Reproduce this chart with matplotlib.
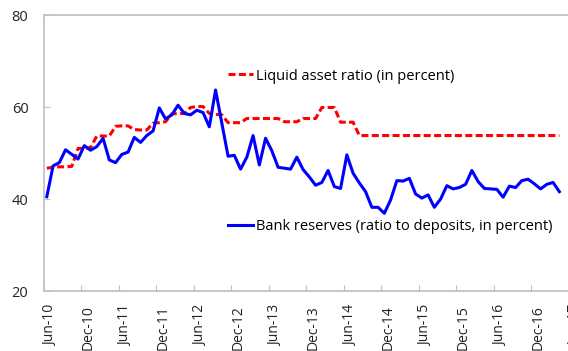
import numpy as np
import matplotlib
matplotlib.use('Agg')
import matplotlib.pyplot as plt
from matplotlib.ticker import FixedLocator, FixedFormatter
from matplotlib.transforms import ScaledTranslation

plt.rcParams['font.family'] = ['Open Sans', 'DejaVu Sans']

# monthly observations, Jun-10 .. Apr-17
start_year, start_month = 2010, 6

bank_reserves = [
    40.5, 47.2, 47.9, 50.7, 49.7, 48.7, 51.6, 50.6, 51.4, 53.2,
    48.5, 47.9, 49.7, 50.2, 53.4, 52.3, 53.8, 54.8, 59.8, 57.4,
    58.3, 60.4, 58.6, 58.3, 59.3, 58.8, 55.7, 63.7, 56.5, 49.3,
    49.5, 46.5, 49.1, 53.8, 47.4, 53.2, 50.5, 46.9, 46.7, 46.5,
    49.1, 46.4, 44.8, 43.0, 43.6, 46.2, 42.7, 42.3, 49.6, 45.6,
    43.5, 41.6, 38.2, 38.2, 36.9, 39.8, 44.0, 43.9, 44.5, 41.1,
    40.2, 40.9, 38.2, 40.0, 42.9, 42.2, 42.5, 43.2, 46.2, 43.8,
    42.3, 42.2, 42.1, 40.4, 42.8, 42.5, 44.0, 44.3, 43.3, 42.2,
    43.2, 43.6, 41.6,
]

liquid_asset_ratio = (
    [46.7, 46.9, 47.0, 47.0, 47.1]
    + [51.0, 51.0, 51.2]
    + [53.7] * 3
    + [55.8, 55.9, 55.9]
    + [55.1, 55.0, 55.0]
    + [56.5, 56.6, 56.8]
    + [58.5, 58.6, 58.6]
    + [59.9, 60.1, 60.1]
    + [58.6, 58.4, 58.3]
    + [56.6] * 3
    + [57.5] * 6
    + [56.8] * 3
    + [57.5] * 3
    + [59.9] * 3
    + [56.7] * 3
    + [53.8] * 33
)

n_obs = len(bank_reserves)
month_names = ['Jan', 'Feb', 'Mar', 'Apr', 'May', 'Jun',
               'Jul', 'Aug', 'Sep', 'Oct', 'Nov', 'Dec']
label_pos = np.arange(0, n_obs + 2, 6)
tick_labels = []
for k in label_pos:
    m = start_month - 1 + k
    tick_labels.append(f'{month_names[m % 12]}-{(start_year + m // 12) % 100:02d}')

x = np.arange(n_obs)
grey = '#BFBFBF'

fig = plt.figure(figsize=(5.68, 3.51), dpi=100)
ax = fig.add_axes([0.0769, 0.1709, 0.9354, 0.7863])

ax.plot(x, liquid_asset_ratio, color='#FF0000', lw=2.2, dashes=(2.3, 1.1),
        label='Liquid asset ratio (in percent)')
ax.plot(x, bank_reserves, color='#0000FF', lw=2.2,
        label='Bank reserves (ratio to deposits, in percent)')

ax.set_xlim(-0.5, 84.5)
ax.set_ylim(20, 80)
ax.set_yticks([20, 40, 60, 80])

# category labels sit mid-slot, tick marks on the slot boundaries
ax.xaxis.set_major_locator(FixedLocator(label_pos))
ax.xaxis.set_major_formatter(FixedFormatter(tick_labels))
ax.xaxis.set_minor_locator(FixedLocator(label_pos - 0.5))
ax.tick_params(axis='x', which='major', length=0, pad=10, rotation=90,
               labelsize=10, colors='#222222')
ax.tick_params(axis='x', which='minor', direction='in', length=4.5,
               width=0.8, color=grey)
ax.tick_params(axis='y', direction='in', length=4.5, width=0.8, color=grey,
               pad=11, labelsize=10.5, labelcolor='#222222')
shift = ScaledTranslation(2.5 / 72, 0, fig.dpi_scale_trans)
for lbl in ax.get_xticklabels():
    lbl.set_transform(lbl.get_transform() + shift)

for side in ['left', 'bottom', 'top']:
    ax.spines[side].set_color(grey)
    ax.spines[side].set_linewidth(1.2)
ax.spines['right'].set_visible(False)

lines = ax.get_lines()
leg1 = ax.legend(handles=[lines[0]], loc='center left',
                 bbox_to_anchor=(0.347, 0.779), frameon=False, fontsize=10.5,
                 handlelength=1.7, handletextpad=0.2, borderpad=0,
                 borderaxespad=0)
ax.add_artist(leg1)
ax.legend(handles=[lines[1]], loc='center left',
          bbox_to_anchor=(0.347, 0.233), frameon=False, fontsize=10.5,
          handlelength=1.7, handletextpad=0.2, borderpad=0, borderaxespad=0)

fig.savefig('out.png', dpi=100)
